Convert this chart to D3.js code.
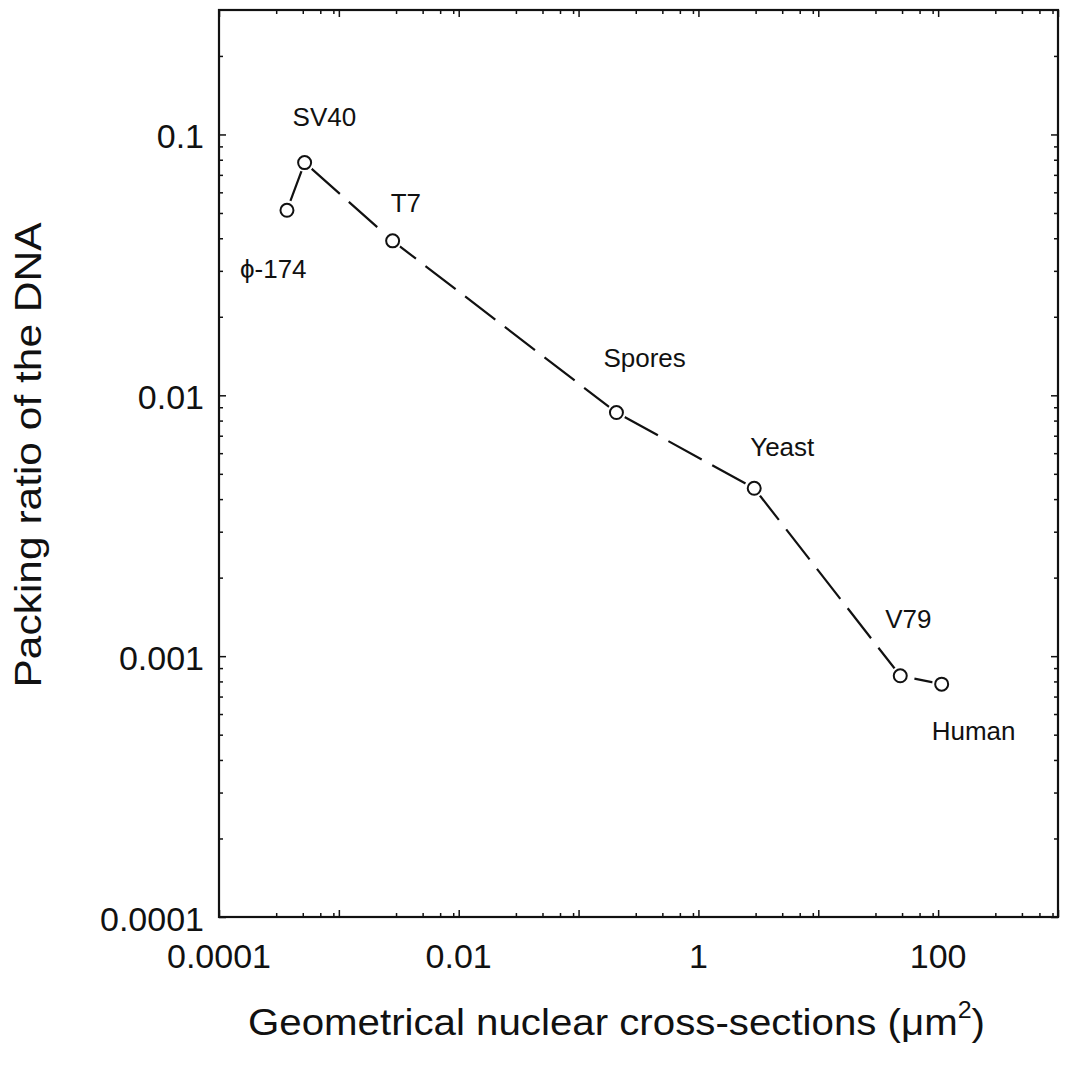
<!DOCTYPE html>
<html>
<head>
<meta charset="utf-8">
<script src="https://cdn.jsdelivr.net/npm/d3@7"></script>
<style>
  html, body { margin: 0; padding: 0; background: #fff; }
  svg text { font-family: "Liberation Sans", Arial, Helvetica, sans-serif; fill: #111; }
</style>
</head>
<body>
<svg id="chart" width="1065" height="1078"></svg>
<script>
// ---- data ----
const organisms = ["\u03d5-174", "SV40", "T7", "Spores", "Yeast", "V79", "Human"];
const crossSection = [3.69e-4, 5.18e-4, 2.81e-3, 0.207, 2.92, 48.3, 107];   // µm²
const packingRatio = [0.0512, 0.078, 0.0391, 0.00859, 0.0044, 0.000841, 0.000781];
const xTickValues = [1e-4, 1e-2, 1, 100];
const xTickLabels = ["0.0001", "0.01", "1", "100"];
const yTickValues = [1e-4, 1e-3, 1e-2, 1e-1];
const yTickLabels = ["0.0001", "0.001", "0.01", "0.1"];
// label offsets from the point (dx, dy in px)
const labelDx = [-47, -12, -2, -13, -4, -15, -10];
const labelDy = [68, -37, -29, -46, -32, -48, 56];

const xLabel = "Geometrical nuclear cross-sections (\u03bcm";
const yLabel = "Packing ratio of the DNA";

// ---- layout ----
const svg = d3.select("#chart");
const L = 219, R = 1058, T = 10, B = 917;
const x = d3.scaleLog().domain([1e-4, 1e3]).range([L, R]);
const y = d3.scaleLog().domain([1e-4, 0.3]).range([B, T]);

// minor ticks
const xMinor = [];
for (let e = -4; e < 3; e++) for (const m of [3, 5, 7, 9]) xMinor.push(m * Math.pow(10, e));
const xMajor = d3.range(-4, 4).map(e => Math.pow(10, e));
const yMinor = [];
for (let e = -4; e < 0; e++) for (let m = 2; m <= 9; m++) { const v = m * Math.pow(10, e); if (v <= 0.3) yMinor.push(v); }

const g = svg.append("g");

function axisTicks(axisGen, vals, size) {
  return axisGen.tickValues(vals).tickSize(size).tickFormat("");
}
const minorLen = -4, majorLen = -7;
const axes = [
  [() => d3.axisBottom(x), `translate(0,${B})`, xMinor, xMajor],
  [() => d3.axisTop(x), `translate(0,${T})`, xMinor, xMajor],
  [() => d3.axisLeft(y), `translate(${L},0)`, yMinor, yTickValues],
  [() => d3.axisRight(y), `translate(${R},0)`, yMinor, yTickValues]
];
axes.forEach(([mk, tr, mn, mj]) => {
  const a1 = g.append("g").attr("transform", tr).call(axisTicks(mk(), mn, minorLen));
  a1.select(".domain").remove();
  const a2 = g.append("g").attr("transform", tr).call(axisTicks(mk(), mj, majorLen));
  a2.select(".domain").remove();
  [a1, a2].forEach(a => a.selectAll("line").attr("stroke", "#111").attr("stroke-width", 1.5));
});

// frame
g.append("rect").attr("x", L).attr("y", T).attr("width", R - L).attr("height", B - T)
  .attr("fill", "none").attr("stroke", "#111").attr("stroke-width", 2.2);

// tick labels
g.selectAll(".xtl").data(xTickValues).enter().append("text")
  .attr("x", d => x(d)).attr("y", 968)
  .attr("text-anchor", "middle").attr("font-size", 34)
  .text((d, i) => xTickLabels[i]);
g.selectAll(".ytl").data(yTickValues).enter().append("text")
  .attr("x", 204).attr("y", d => y(d) + 14)
  .attr("text-anchor", "end").attr("font-size", 34)
  .text((d, i) => yTickLabels[i]);

// data
const pts = organisms.map((n, i) => ({ n, x: crossSection[i], y: packingRatio[i], i }));
const line = d3.line().x(d => x(d.x)).y(d => y(d.y));
g.append("path").datum(pts).attr("d", line)
  .attr("fill", "none").attr("stroke", "#111").attr("stroke-width", 2.2)
  .attr("stroke-dasharray", "38,12").attr("stroke-dashoffset", -10);
g.selectAll(".pt").data(pts).enter().append("circle")
  .attr("cx", d => x(d.x)).attr("cy", d => y(d.y)).attr("r", 9.5)
  .attr("fill", "#fff").attr("stroke", "none");
g.selectAll(".pt2").data(pts).enter().append("circle")
  .attr("cx", d => x(d.x)).attr("cy", d => y(d.y)).attr("r", 6.5)
  .attr("fill", "#fff").attr("stroke", "#111").attr("stroke-width", 2);

g.selectAll(".lbl").data(pts).enter().append("text")
  .attr("x", d => x(d.x) + labelDx[d.i]).attr("y", d => y(d.y) + labelDy[d.i])
  .attr("font-size", 26)
  .text(d => d.n);

// axis titles
const xt = g.append("text").attr("x", 248).attr("y", 1035).attr("font-size", 37)
  .attr("textLength", 737).attr("lengthAdjust", "spacingAndGlyphs");
xt.append("tspan").text(xLabel);
xt.append("tspan").attr("font-size", 23).attr("dy", -17).text("2");
xt.append("tspan").attr("dy", 17).text(")");

g.append("text").attr("transform", "translate(41,455) rotate(-90)")
  .attr("text-anchor", "middle").attr("font-size", 37)
  .attr("textLength", 465).attr("lengthAdjust", "spacingAndGlyphs").text(yLabel);
</script>
</body>
</html>
